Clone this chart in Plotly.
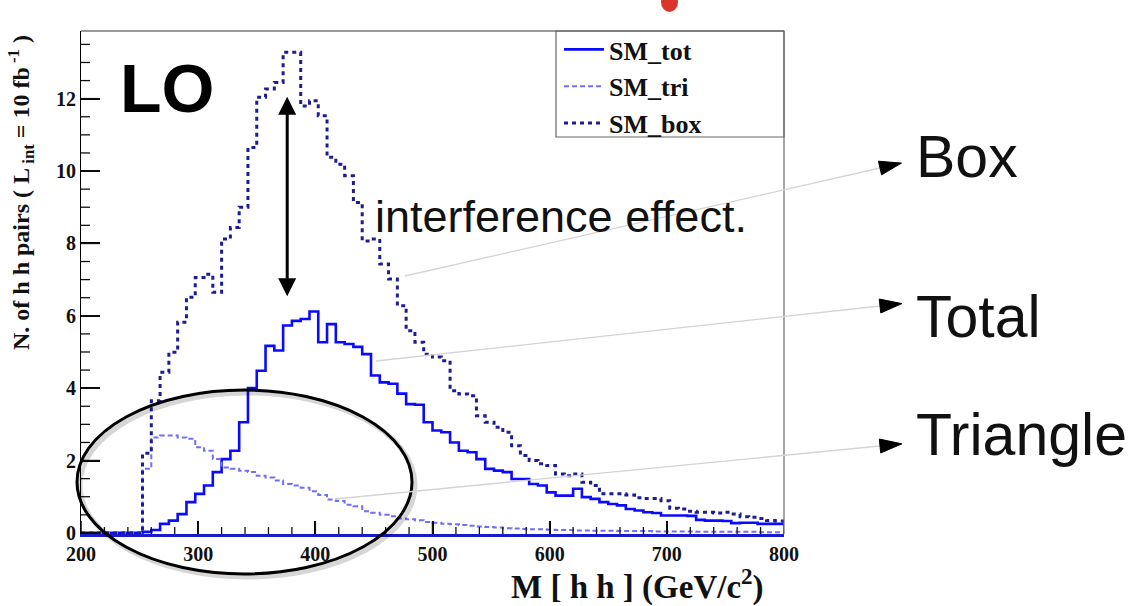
import numpy as np
import plotly.graph_objects as go

# ---------------- data (80 bins, 7.5 GeV wide, 200-800 GeV) ----------------
bin_lo, bin_hi, bin_w = 200.0, 800.0, 7.5

sm_tot = [0, 0, 0, 0, 0, 0, 0,
          0.03, 0.08, 0.25, 0.34, 0.52, 0.85, 1.08, 1.31, 1.68, 2.04,
          2.27, 3.06, 4.00, 4.48, 5.17, 5.04, 5.73, 5.86, 5.91, 6.12,
          5.27, 5.77, 5.27, 5.22, 5.14, 4.94, 4.35, 4.16, 4.12, 3.85,
          3.56, 3.54, 3.06, 2.83, 2.78, 2.50, 2.27, 2.23, 2.04, 1.77,
          1.72, 1.68, 1.49, 1.49, 1.35, 1.31, 1.12, 1.03, 1.03, 1.22,
          0.99, 0.94, 0.85, 0.80, 0.76, 0.66, 0.62, 0.57, 0.55, 0.48,
          0.48, 0.48, 0.47, 0.36, 0.34, 0.34, 0.33, 0.27, 0.28, 0.28,
          0.25, 0.25, 0.25]

sm_tri = [0, 0, 0, 0, 0, 0, 0,
          1.77, 2.64, 2.69, 2.69, 2.64, 2.60, 2.37, 2.27, 2.04, 1.81,
          1.77, 1.72, 1.68, 1.58, 1.53, 1.45, 1.35, 1.31, 1.25, 1.15,
          1.05, 0.92, 0.88, 0.78, 0.74, 0.60, 0.56, 0.50, 0.46, 0.40,
          0.38, 0.35, 0.30, 0.28, 0.25, 0.24, 0.22, 0.20, 0.18, 0.16,
          0.15, 0.13, 0.12, 0.11, 0.10, 0.10, 0.09, 0.08, 0.08, 0.07,
          0.07, 0.06, 0.06, 0.06, 0.05, 0.05, 0.05, 0.05, 0.04, 0.04,
          0.04, 0.04, 0.04, 0.03, 0.03, 0.03, 0.03, 0.03, 0.03, 0.03,
          0.02, 0.02, 0.02]

sm_box = [0, 0, 0, 0, 0, 0, 0,
          2.20, 3.65, 4.44, 4.99, 5.82, 6.51, 7.06, 7.15, 6.65, 8.12,
          8.44, 9.00, 10.65, 12.04, 12.27, 12.45, 13.28, 13.28, 11.80, 11.94,
          11.53, 10.38, 10.19, 9.87, 9.13, 8.07, 8.12, 7.43, 7.02, 6.28,
          5.59, 5.27, 4.94, 4.86, 4.76, 3.93, 3.84, 3.79, 3.24, 3.06,
          2.92, 2.78, 2.41, 2.14, 2.00, 1.91, 1.86, 1.63, 1.58, 1.63,
          1.40, 1.31, 1.08, 1.08, 1.08, 1.05, 0.97, 0.95, 0.95, 0.89,
          0.68, 0.66, 0.60, 0.57, 0.57, 0.55, 0.57, 0.52, 0.45, 0.43,
          0.40, 0.34, 0.33]

x_ticks = [200, 300, 400, 500, 600, 700, 800]
x_ticklabels = ["200", "300", "400", "500", "600", "700", "800"]
y_ticks = [0, 2, 4, 6, 8, 10, 12]
y_ticklabels = ["0", "2", "4", "6", "8", "10", "12"]

series_names = ["SM_tot", "SM_tri", "SM_box"]

# ---------------- layout helpers (pixel -> paper) ----------------
W, H = 1128, 606
PL, PR, PT, PB = 81, 784, 31, 534
X_RANGE = [bin_lo, bin_hi]
Y_RANGE = [-0.03, 13.87]


def px(x):
    return (x - PL) / (PR - PL)


def py(y):
    return (PB - y) / (PB - PT)


edges = np.arange(bin_lo, bin_hi + bin_w / 2, bin_w)
x_minor = np.arange(200, 801, 20)
y_minor = np.arange(0, 13.6, 0.5)


def step_y(vals):
    return list(vals) + [vals[-1]]


fig = go.Figure()
fig.add_trace(go.Scatter(x=edges, y=step_y(sm_tot), mode="lines", line_shape="hv",
                         name=series_names[0],
                         line=dict(color="#0a0aff", width=2.6)))
fig.add_trace(go.Scatter(x=edges, y=step_y(sm_tri), mode="lines", line_shape="hv",
                         name=series_names[1],
                         line=dict(color="#6e6eff", width=2, dash="5px,3px")))
fig.add_trace(go.Scatter(x=edges, y=step_y(sm_box), mode="lines", line_shape="hv",
                         name=series_names[2],
                         line=dict(color="#1c1c94", width=3, dash="4px,4px")))

serif = "Liberation Serif"
sans = "Liberation Sans"

tickfont = dict(family=serif, size=20, color="#111", weight="bold")

fig.update_layout(
    xaxis=dict(range=X_RANGE, tickmode="array", tickvals=x_ticks, ticktext=x_ticklabels,
               showgrid=False, zeroline=False, showline=True,
               linecolor="#1a1acc", linewidth=2.5, mirror=False,
               ticks="inside", tickcolor="#000", ticklen=13, tickwidth=1.5,
               tickfont=tickfont),
    yaxis=dict(range=Y_RANGE, tickmode="array", tickvals=y_ticks, ticktext=y_ticklabels,
               showgrid=False, zeroline=False, showline=True,
               linecolor="#000", linewidth=1.2, mirror=False,
               ticks="inside", tickcolor="#000", ticklen=19, tickwidth=1.5,
               tickfont=tickfont),
)

shapes = []
# tick marks (drawn on the axes' own scales)
for v in x_minor:
    major = v in x_ticks
    shapes.append(dict(type="line", xref="x", yref="paper", x0=v, x1=v,
                       y0=0, y1=(13 if major else 7) / (PB - PT),
                       line=dict(color="#111", width=1.5 if major else 1.3),
                       layer="above"))
for v in y_minor:
    major = v in y_ticks
    shapes.append(dict(type="line", xref="paper", yref="y", y0=v, y1=v,
                       x0=0, x1=(19 if major else 9) / (PR - PL),
                       line=dict(color="#111", width=1.5 if major else 1.3),
                       layer="above"))
# top and right frame lines
shapes.append(dict(type="line", xref="paper", yref="paper", x0=0, x1=1, y0=1, y1=1,
                   line=dict(color="#777", width=1.3), layer="above"))
shapes.append(dict(type="line", xref="paper", yref="paper", x0=1, x1=1, y0=0, y1=1,
                   line=dict(color="#777", width=1.3), layer="above"))
# legend frame
shapes.append(dict(type="rect", xref="paper", yref="paper",
                   x0=px(556), x1=px(784), y0=py(137), y1=py(31),
                   line=dict(color="#666", width=1.2), fillcolor="rgba(0,0,0,0)",
                   layer="above"))
# ellipse (with soft shadow)
shapes.append(dict(type="circle", xref="paper", yref="paper",
                   x0=px(80), x1=px(415), y0=py(577), y1=py(393),
                   line=dict(color="rgba(0,0,0,0.16)", width=5), layer="above"))
shapes.append(dict(type="circle", xref="paper", yref="paper",
                   x0=px(77), x1=px(412), y0=py(574), y1=py(390),
                   line=dict(color="#000", width=3), layer="above"))

# connector lines with black heads
connectors = [((405, 276), (880, 168)), ((376, 361), (880, 306)), ((335, 499), (880, 446))]
for (x0, y0), (x1, y1) in connectors:
    shapes.append(dict(type="line", xref="paper", yref="paper",
                       x0=px(x0), y0=py(y0), x1=px(x1), y1=py(y1),
                       line=dict(color="#d4d4d4", width=1.3), layer="above"))
    dx, dy = x1 - x0, y1 - y0
    L = (dx * dx + dy * dy) ** 0.5
    ux, uy = dx / L, dy / L
    nx, ny = -uy, ux
    tipx, tipy = x1 + 22 * ux, y1 + 22 * uy
    b1x, b1y = x1 + 7 * nx, y1 + 7 * ny
    b2x, b2y = x1 - 7 * nx, y1 - 7 * ny
    path = "M {} {} L {} {} L {} {} Z".format(px(tipx), py(tipy), px(b1x), py(b1y),
                                              px(b2x), py(b2y))
    shapes.append(dict(type="path", xref="paper", yref="paper", path=path,
                       fillcolor="#000", line=dict(color="#000", width=1), layer="above"))

# red fragment at top edge
shapes.append(dict(type="circle", xref="paper", yref="paper",
                   x0=px(661), x1=px(678), y0=py(12), y1=py(-8),
                   fillcolor="#d9352a", line=dict(width=0), layer="above"))

annotations = []
# double-headed arrow
annotations.append(dict(x=376, y=12.05, ax=376, ay=6.5, xref="x", yref="y",
                        axref="x", ayref="y", text="", showarrow=True,
                        arrowhead=2, startarrowhead=2, arrowside="end+start",
                        arrowsize=1.2, startarrowsize=1.2, arrowwidth=3,
                        arrowcolor="#000"))
annotations.append(dict(x=px(118), y=py(88), xref="paper", yref="paper",
                        text="LO", showarrow=False, xanchor="left", yanchor="middle",
                        font=dict(family=sans, size=68, color="#000", weight="bold")))
annotations.append(dict(x=px(373), y=py(216), xref="paper", yref="paper",
                        text="interference effect.", showarrow=False, xanchor="left",
                        yanchor="middle", font=dict(family=sans, size=45, color="#111")))
for label, yc in [("Box", 157), ("Total", 317), ("Triangle", 435)]:
    annotations.append(dict(x=px(914), y=py(yc), xref="paper", yref="paper",
                            text=label, showarrow=False, xanchor="left",
                            yanchor="middle",
                            font=dict(family=sans, size=59, color="#111")))
# axis titles
annotations.append(dict(x=px(766), y=py(584), xref="paper", yref="paper",
                        text="M [ h h ] (GeV/c<sup>2</sup>)", showarrow=False,
                        xanchor="right", yanchor="middle",
                        font=dict(family=serif, size=33, color="#111", weight="bold")))
annotations.append(dict(x=px(21), y=py(193), xref="paper", yref="paper",
                        text="N. of h h pairs ( L<sub> int</sub> = 10 fb<sup> -1</sup> )",
                        showarrow=False, textangle=-90, xanchor="center",
                        yanchor="middle",
                        font=dict(family=serif, size=24, color="#111", weight="bold")))

fig.update_layout(
    width=W, height=H,
    margin=dict(l=PL, r=W - PR, t=PT, b=H - PB, pad=0),
    paper_bgcolor="white", plot_bgcolor="white",
    showlegend=True,
    legend=dict(x=px(559), y=py(26), xanchor="left", yanchor="top",
                bgcolor="rgba(255,255,255,0)", borderwidth=0,
                font=dict(family=serif, size=26, color="#111", weight="bold"),
                itemwidth=40, tracegroupgap=0),
    shapes=shapes,
    annotations=annotations,
)

fig.write_html("out.html")
